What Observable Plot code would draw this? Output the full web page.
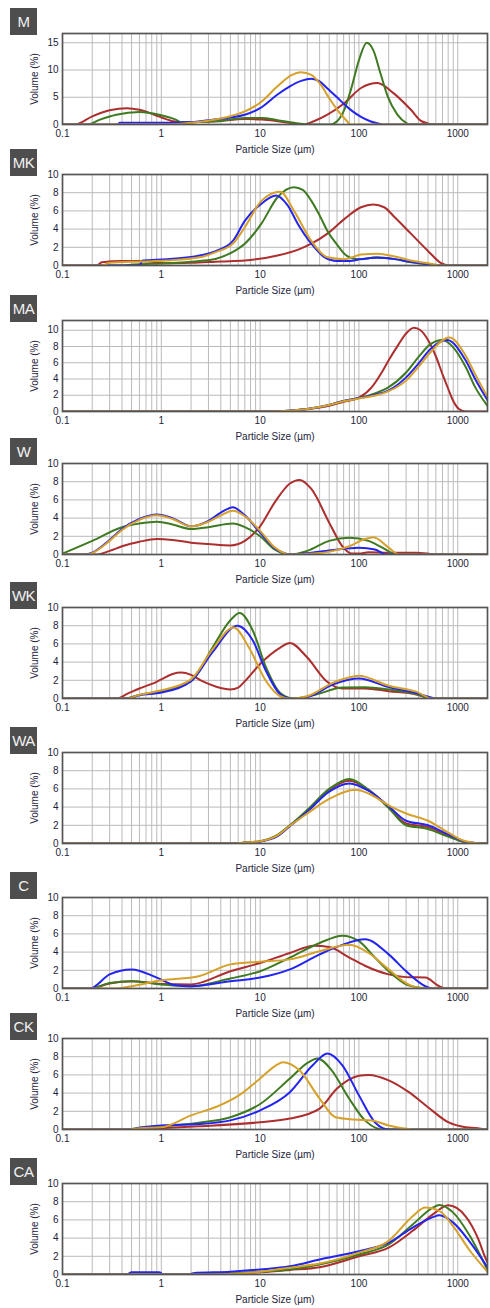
<!DOCTYPE html>
<html>
<head>
<meta charset="utf-8">
<script src="https://cdn.jsdelivr.net/npm/d3@7"></script>
<script src="https://cdn.jsdelivr.net/npm/@observablehq/plot@0.6"></script>
<style>
  html, body { margin: 0; padding: 0; background: #fff; }
  #root { position: relative; width: 490px; height: 1308px; overflow: hidden; background: #fff; }
  .panel { position: absolute; left: 0; }
  .tag { position: absolute; left: 10px; width: 27px; height: 27px; background: #4e4e4e; color: #f2f2f2;
         font: 15px "Liberation Sans", Arial, sans-serif; display: flex; align-items: center; justify-content: center; letter-spacing: -0.5px; }
</style>
</head>
<body>
<div id="root"></div>
<script>
// ---------- data (particle size µm, volume %) ----------
const panelNames = ["M", "MK", "MA", "W", "WK", "WA", "C", "CK", "CA"];
const seriesNames = ["red", "green", "blue", "gold"];
const xTickLabels = [0.1, 1, 10, 100, 1000];
const yTicksDefault = [0, 2, 4, 6, 8, 10];
const yTicksM = [0, 5, 10, 15];

const M_red = [[0.1,0],[0.134,0],[0.2,1.5],[0.3,2.6],[0.45,3.0],[0.6,2.7],[0.85,1.8],[1.2,0.8],[1.6,0.4],[3.6,0.6],[7,1.0],[10.5,0.9],[15,0.6],[22,0.2],[27,0],[35,0.6],[48,1.8],[71,3.9],[105,6.7],[154,7.6],[222,5.8],[336,2.7],[430,0.6],[590,0],[2000,0]];
const M_green = [[0.1,0],[0.18,0],[0.24,0.9],[0.35,1.8],[0.6,2.3],[0.95,1.8],[1.4,0.9],[1.6,0.4],[3.6,0.6],[7,1.2],[10.5,1.2],[15,0.8],[22,0.3],[33,0],[51,0],[60,0.6],[71,2.7],[83,6.4],[100,11.8],[120,15.0],[140,13.6],[165,9.4],[195,5.2],[245,1.8],[300,0.3],[330,0],[2000,0]];
const M_blue = [[0.1,0],[0.36,0],[0.38,0.3],[0.9,0.3],[1.9,0.4],[3,0.8],[5,1.3],[7,1.8],[10,3.0],[15,5.5],[20,7.0],[26,8.0],[33,8.4],[40,7.9],[48,6.6],[60,5.0],[71,3.7],[85,2.5],[105,1.4],[130,0.6],[160,0.15],[180,0],[2000,0]];
const M_gold = [[0.1,0],[1,0],[1.5,0.1],[2,0.3],[3,0.7],[5,1.5],[7,2.4],[10,4.0],[15,7.0],[20.5,9.0],[26,9.6],[33,9.1],[41,7.3],[51,4.6],[64,2.1],[76,0.6],[82,0],[2000,0]];

const MK_red = [[0.1,0],[0.22,0],[0.25,0.35],[0.4,0.5],[0.6,0.5],[0.8,0.4],[1.1,0.25],[2,0.3],[4,0.45],[7,0.55],[15,1.1],[25,1.8],[33,2.4],[48,3.5],[71,5.1],[105,6.4],[140,6.7],[180,6.4],[230,5.3],[336,3.5],[500,1.6],[680,0.25],[800,0],[2000,0]];
const MK_green = [[0.1,0],[0.4,0],[0.52,0.1],[1.13,0.25],[2.45,0.5],[3.6,0.75],[5.3,1.5],[7,2.4],[10.3,4.6],[15,7.5],[22,8.6],[27,8.3],[33,7.1],[40,5.5],[48,3.8],[60,2.3],[71,1.3],[85,0.8],[105,0.7],[150,0.9],[230,0.7],[336,0.35],[530,0.1],[700,0],[2000,0]];
const MK_blue = [[0.1,0],[0.6,0],[0.65,0.55],[1.13,0.7],[2.45,1.1],[3.6,1.6],[5.3,2.7],[7,4.9],[10.3,6.8],[14.5,7.7],[19,6.6],[24,4.6],[33,2.4],[45,0.9],[60,0.5],[80,0.5],[105,0.7],[150,0.85],[230,0.7],[336,0.4],[530,0.1],[750,0],[2000,0]];
const MK_gold = [[0.1,0],[0.25,0],[0.3,0.3],[0.65,0.45],[1.13,0.55],[2.45,0.9],[3.6,1.5],[5.3,2.4],[7,4.2],[10.3,7.1],[16,8.1],[22,6.0],[33,2.7],[48,0.9],[71,0.7],[105,1.2],[154,1.3],[230,1.0],[336,0.55],[530,0.2],[700,0],[2000,0]];

const MA_red = [[0.1,0],[12,0],[20,0.1],[30,0.3],[50,0.7],[70,1.2],[100,1.7],[135,3.0],[170,4.8],[200,6.3],[250,8.2],[300,9.6],[360,10.3],[420,10.0],[500,8.8],[600,6.8],[700,4.6],[800,2.8],[900,1.3],[1030,0.3],[1200,0],[2000,0]];
const MA_green = [[0.1,0],[12,0],[20,0.1],[30,0.3],[50,0.8],[70,1.3],[100,1.65],[150,2.3],[200,3.0],[300,4.8],[400,6.7],[530,8.3],[700,8.8],[900,7.9],[1200,5.5],[1500,3.0],[2000,0.7]];
const MA_blue = [[0.1,0],[12,0],[20,0.1],[30,0.3],[50,0.8],[70,1.3],[100,1.65],[150,2.1],[200,2.6],[300,4.2],[400,5.9],[530,7.7],[780,8.8],[1200,6.3],[1500,4.0],[2000,1.4]];
const MA_gold = [[0.1,0],[12,0],[20,0.1],[30,0.3],[50,0.8],[70,1.25],[100,1.6],[150,2.0],[200,2.5],[300,3.8],[400,5.5],[530,7.3],[820,9.1],[1200,6.9],[1500,4.6],[2000,1.8]];

const W_red = [[0.1,0],[0.22,0],[0.3,0.4],[0.4,0.9],[0.6,1.4],[0.9,1.7],[1.3,1.6],[2,1.3],[3,1.15],[5,1.0],[7,1.5],[10,3.1],[14,5.7],[20,7.8],[25,8.2],[33,7.2],[50,3.5],[68,0.9],[85,0.1],[100,0.1],[125,0.25],[200,0.2],[380,0.2],[630,0],[2000,0]];
const W_green = [[0.1,0.1],[0.2,1.5],[0.4,3.0],[0.6,3.4],[0.9,3.6],[1.3,3.3],[2,2.8],[3,3.0],[5.3,3.4],[7,3.0],[10,2.0],[14,0.55],[20,0],[30,0.4],[50,1.5],[80,1.85],[125,1.5],[200,0.35],[230,0],[2000,0]];
const W_blue = [[0.1,0],[0.17,0],[0.2,0.2],[0.3,1.6],[0.4,2.8],[0.6,3.9],[0.9,4.4],[1.3,4.0],[2,3.1],[3,3.7],[4,4.6],[5.3,5.2],[7,4.3],[10,2.4],[14,0.7],[17,0.2],[20,0],[33,0.2],[55,0.5],[100,0.75],[145,0.55],[190,0],[2000,0]];
const W_gold = [[0.1,0],[0.18,0],[0.2,0.15],[0.3,1.5],[0.4,2.7],[0.6,3.8],[0.9,4.3],[1.3,3.9],[2,3.1],[3,3.6],[4,4.3],[5.3,4.8],[7,4.2],[10,2.6],[14,0.8],[18,0.1],[20,0],[35,0.1],[55,0.4],[80,0.9],[115,1.7],[140,1.9],[200,0.75],[240,0.1],[260,0],[2000,0]];

const WK_red = [[0.1,0],[0.35,0],[0.45,0.5],[0.6,1.1],[0.8,1.6],[1,2.1],[1.3,2.7],[1.6,2.85],[2,2.6],[2.6,1.9],[3.6,1.3],[5,1.0],[6,1.2],[7,1.9],[10,3.8],[16,5.6],[20,6.1],[30,4.5],[47,1.9],[68,1.1],[115,1.1],[200,0.8],[380,0.45],[550,0],[2000,0]];
const WK_green = [[0.1,0],[0.42,0],[0.6,0.4],[1,0.8],[2,1.9],[3.3,5.6],[5,8.6],[6.2,9.4],[8.4,7.5],[11.5,3.4],[16,0.6],[22,0],[37,0.45],[68,1.2],[115,1.25],[200,1.0],[380,0.5],[550,0],[2000,0]];
const WK_blue = [[0.1,0],[0.45,0],[0.6,0.35],[1,0.65],[2,1.9],[3.3,5.1],[5.9,8.0],[8.4,6.4],[11.5,3.0],[17,0.25],[22,0],[32,0.25],[55,1.55],[100,2.2],[200,1.25],[380,0.6],[630,0],[2000,0]];
const WK_gold = [[0.1,0],[0.45,0],[0.6,0.4],[1,0.9],[2,2.1],[3.3,5.4],[5.4,7.8],[7.7,5.6],[11.5,1.9],[16,0.25],[20,0],[30,0.25],[55,1.75],[100,2.5],[200,1.4],[380,0.75],[550,0],[2000,0]];

const WA_red = [[0.1,0],[5,0],[7,0.1],[10,0.25],[15,0.9],[20,1.95],[30,3.6],[50,5.9],[80,6.9],[125,5.9],[200,4.0],[300,2.2],[500,1.8],[800,0.85],[1200,0.15],[1900,0],[2000,0]];
const WA_green = [[0.1,0],[5,0],[7,0.1],[10,0.25],[15,0.95],[20,2.0],[30,3.7],[50,6.0],[80,7.1],[125,5.9],[200,3.9],[300,2.0],[500,1.6],[800,0.75],[1200,0.15],[1900,0],[2000,0]];
const WA_blue = [[0.1,0],[5,0],[7,0.05],[10,0.2],[15,0.8],[20,1.9],[30,3.5],[50,5.7],[80,6.6],[125,5.8],[200,4.1],[300,2.5],[500,2.0],[800,1.0],[1200,0.2],[1900,0],[2000,0]];
const WA_gold = [[0.1,0],[5,0],[7,0.1],[10,0.25],[15,0.9],[20,1.95],[30,3.3],[50,4.9],[92,5.9],[125,5.5],[200,4.2],[300,3.3],[500,2.5],[800,1.2],[1200,0.25],[1900,0],[2000,0]];

const C_red = [[0.1,0],[0.19,0],[0.3,0.55],[0.5,0.8],[1,0.5],[2,0.45],[5,1.9],[10,2.8],[20,3.9],[35,4.7],[50,4.55],[80,3.4],[115,2.5],[200,1.55],[300,1.25],[470,1.2],[650,0.25],[780,0],[2000,0]];
const C_green = [[0.1,0],[0.19,0],[0.3,0.6],[0.5,0.8],[1,0.45],[2,0.25],[5,1.1],[10,1.9],[20,3.4],[40,5.0],[68,5.8],[100,5.2],[145,3.4],[200,1.9],[300,0.45],[400,0.1],[510,0],[2000,0]];
const C_blue = [[0.1,0],[0.19,0],[0.3,1.55],[0.5,2.1],[0.9,1.2],[1.4,0.35],[2,0.25],[5,0.8],[10,1.2],[20,2.1],[40,3.75],[70,4.85],[115,5.4],[200,3.75],[300,1.9],[470,0.25],[550,0],[2000,0]];
const C_gold = [[0.1,0],[0.33,0],[0.5,0.25],[1,0.9],[2.4,1.35],[5,2.65],[10,2.95],[20,3.2],[40,4.1],[80,4.8],[125,3.9],[200,2.1],[300,0.6],[400,0.05],[450,0],[2000,0]];

const CK_red = [[0.1,0],[0.5,0],[1,0.15],[2.4,0.35],[10,0.8],[20,1.2],[40,2.3],[60,4.5],[100,5.9],[125,6.0],[200,5.4],[320,4.1],[500,2.45],[800,0.8],[1200,0.25],[1600,0.15],[1900,0],[2000,0]];
const CK_green = [[0.1,0],[0.45,0],[0.6,0.2],[1,0.35],[2.4,0.75],[5,1.35],[10,2.8],[20,5.6],[31,7.4],[38,7.8],[53,6.5],[78,3.55],[115,1.0],[155,0.1],[170,0],[2000,0]];
const CK_blue = [[0.1,0],[0.5,0],[0.6,0.2],[1,0.45],[2.4,0.6],[5,1.0],[10,2.1],[20,4.1],[34,7.05],[48,8.35],[68,7.05],[100,3.75],[145,0.8],[185,0.05],[200,0],[2000,0]];
const CK_gold = [[0.1,0],[0.48,0],[0.6,0.15],[1,0.25],[2,1.55],[3.9,2.65],[6.1,3.75],[10,5.6],[14.5,7.05],[17,7.4],[25,6.5],[40,3.4],[58,1.35],[88,1.1],[135,1.0],[200,0.45],[320,0.05],[360,0],[2000,0]];

const CA_red = [[0.1,0],[3,0],[6,0.15],[10,0.25],[20,0.5],[40,0.8],[100,2.0],[200,2.95],[350,4.8],[560,6.6],[800,7.6],[1200,6.4],[1600,4.0],[1900,1.85],[2000,1.3]];
const CA_green = [[0.1,0],[2,0],[5,0.15],[10,0.3],[20,0.55],[40,1.1],[100,2.2],[200,3.3],[350,5.5],[560,7.35],[650,7.65],[900,6.8],[1300,4.4],[2000,0.5]];
const CA_blue = [[0.1,0],[0.45,0],[0.5,0.25],[0.95,0.25],[1.05,0],[1.9,0],[2.1,0.15],[5,0.3],[10,0.55],[20,0.9],[40,1.65],[100,2.55],[200,3.5],[350,5.15],[560,6.3],[650,6.5],[900,5.7],[1300,3.7],[2000,0.8]];
const CA_gold = [[0.1,0],[3,0],[6,0.1],[10,0.3],[20,0.75],[40,1.2],[100,2.4],[200,3.7],[350,6.4],[470,7.35],[650,7.0],[900,5.3],[1300,2.75],[2000,0.3]];

// ---------- styling / layout ----------
const colors = { red: "#ad2e2e", green: "#3f7a22", blue: "#2424f0", gold: "#d6a12a" };
const plotTops = [33, 174, 320, 463, 607, 752, 897, 1038, 1183];
const yMaxes = [16.7, 10, 11.2, 10, 10, 10, 10, 10, 10];
const seriesByPanel = [
  [M_red, M_green, M_blue, M_gold],
  [MK_red, MK_green, MK_blue, MK_gold],
  [MA_red, MA_green, MA_blue, MA_gold],
  [W_red, W_green, W_blue, W_gold],
  [WK_red, WK_green, WK_blue, WK_gold],
  [WA_red, WA_green, WA_blue, WA_gold],
  [C_red, C_green, C_blue, C_gold],
  [CK_red, CK_green, CK_blue, CK_gold],
  [CA_red, CA_green, CA_blue, CA_gold]
];

const MT = 8, MB = 32, INNER = 91;
const xDomain = [0.1, 2000];
const xGrid = d3.scaleLog().domain(xDomain).ticks();
const root = document.getElementById("root");
const textColor = "#1d1d3a";

panelNames.forEach((name, i) => {
  const yTicks = name === "M" ? yTicksM : yTicksDefault;
  const lines = seriesByPanel[i].map((arr, k) =>
    Plot.line(arr, { x: d => d[0], y: d => d[1], stroke: colors[seriesNames[k]], strokeWidth: 2, curve: "monotone-x", clip: true })
  );
  const chart = Plot.plot({
    width: 490,
    height: MT + INNER + MB,
    marginTop: MT, marginBottom: MB, marginLeft: 62, marginRight: 3,
    style: { fontFamily: "'Liberation Sans', Arial, sans-serif", fontSize: "10px", color: textColor, background: "transparent" },
    x: { type: "log", domain: xDomain },
    y: { domain: [0, yMaxes[i]] },
    marks: [
      Plot.gridX(xGrid, { stroke: "#bababa", strokeOpacity: 1, strokeWidth: 1 }),
      Plot.gridY(yTicks, { stroke: "#bababa", strokeOpacity: 1, strokeWidth: 1 }),
      ...lines,
      Plot.frame({ stroke: "#555555", strokeWidth: 1.7 }),
      Plot.axisX(xTickLabels, { tickSize: 0, tickPadding: 5, tickFormat: d => String(d), label: null, fill: textColor }),
      Plot.axisY(yTicks, { tickSize: 0, tickPadding: 4, label: null, fill: textColor }),
      Plot.text(["Particle Size (µm)"], { frameAnchor: "bottom", dy: 25, textAnchor: "middle", lineAnchor: "middle", fill: textColor, fontSize: 10 }),
      Plot.text(["Volume (%)"], { frameAnchor: "left", dx: -28, rotate: -90, textAnchor: "middle", lineAnchor: "middle", fill: textColor, fontSize: 10 })
    ]
  });
  const div = document.createElement("div");
  div.className = "panel";
  div.style.top = (plotTops[i] - MT) + "px";
  div.appendChild(chart);
  root.appendChild(div);

  const tag = document.createElement("div");
  tag.className = "tag";
  tag.style.top = (plotTops[i] - 25) + "px";
  tag.textContent = name;
  root.appendChild(tag);
});
</script>
</body>
</html>
